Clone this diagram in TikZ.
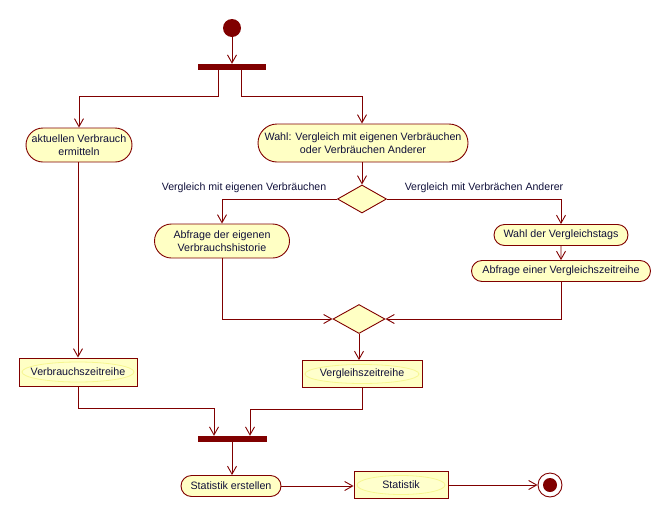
\documentclass[tikz,border=0pt]{standalone}
\usepackage{fontspec}
\setmainfont{Liberation Sans}
\usetikzlibrary{arrows.meta,shapes.misc,shapes.geometric,calc}
\definecolor{dr}{HTML}{800000}
\definecolor{yl}{HTML}{FFFFC4}
\definecolor{inl}{HTML}{F6F690}
\definecolor{inf}{HTML}{FFFFCC}
\definecolor{tx}{HTML}{10103A}
\tikzset{
  every node/.style={font=\fontsize{10.7}{13}\selectfont, text=tx, align=center, inner sep=0pt},
  act/.style={rounded rectangle, draw=dr, fill=yl, line width=0.9pt},
  obj/.style={rectangle, draw=dr, fill=yl, line width=0.9pt,
    path picture={\path let \p1=($(path picture bounding box.north east)-(path picture bounding box.south west)$) in
      [draw=inl, fill=inf, line width=0.8pt] (path picture bounding box.center) ellipse ({\x1/2-3pt} and {\y1/2-4pt});}},
  dec/.style={diamond, draw=dr, fill=yl, line width=0.9pt, aspect=1.75},
  bar/.style={rectangle, fill=dr, draw=none},
  flow/.style={draw=dr, line width=0.9pt, -{Straight Barb[length=8pt,width=9pt,line width=0.9pt]}},
  guard/.style={font=\fontsize{10.6}{12}\selectfont}
}
\begin{document}
\begin{tikzpicture}[x=1pt,y=-1pt]
\useasboundingbox (0,0) rectangle (670,520);
% nodes
\node[circle, fill=dr, minimum size=18pt] (start) at (232,28) {};
\node[bar, minimum width=68pt, minimum height=6pt] (fork) at (232,67) {};
\node[act, minimum width=106pt, minimum height=34pt] (a1) at (79,145) {aktuellen Verbrauch\\ermitteln};
\node[act, minimum width=210pt, minimum height=38pt] (a2) at (363,143) {Wahl: Vergleich mit eigenen Verbräuchen\\oder Verbräuchen Anderer};
\node[dec, minimum width=49pt, minimum height=28pt] (d1) at (362,199) {};
\node[act, minimum width=135pt, minimum height=34pt] (a3) at (222,241) {Abfrage der eigenen\\Verbrauchshistorie};
\node[act, minimum width=134pt, minimum height=21pt] (a4) at (561,235) {Wahl der Vergleichstags};
\node[act, minimum width=179pt, minimum height=21pt] (a5) at (561,271) {Abfrage einer Vergleichszeitreihe};
\node[dec, minimum width=52pt, minimum height=29pt] (d2) at (359,319) {};
\node[obj, minimum width=118pt, minimum height=28pt] (o1) at (78,372) {Verbrauchszeitreihe};
\node[obj, minimum width=120pt, minimum height=27pt] (o2) at (362,374) {Vergleihszeitreihe};
\node[bar, minimum width=69pt, minimum height=6pt] (join) at (232,439) {};
\node[act, minimum width=100pt, minimum height=21pt] (a6) at (231,486) {Statistik erstellen};
\node[obj, minimum width=94pt, minimum height=27pt] (o3) at (401,485) {Statistik};
\node[circle, draw=dr, fill=white, line width=0.9pt, minimum size=24pt] (end) at (550,485) {};
\node[circle, fill=dr, minimum size=14pt] (endin) at (end) {};
% guards
\node[guard] (g1) at (244,188) {Vergleich mit eigenen Verbräuchen};
\node[guard] (g2) at (484,188) {Vergleich mit Verbrächen Anderer};
% edges
\draw[flow] (start) -- (fork.north);
\draw[flow] ([xshift=-14pt]fork.south) -- ++(0,26) -| (a1.north);
\draw[flow] ([xshift=9pt]fork.south) -- ++(0,26) -| ([xshift=-1pt]a2.north);
\draw[flow] ([xshift=-1pt]a2.south) -- (d1.north);
\draw[flow] (d1.west) -| (a3.north);
\draw[flow] (d1.east) -| (a4.north);
\draw[flow] (a4) -- (a5);
\draw[flow] (a3.south) |- (d2.west);
\draw[flow] (a5.south) |- (d2.east);
\draw[flow] (d2.south) -- (d2.south |- o2.north);
\draw[flow] (a1.south -| o1.north) -- (o1.north);
\draw[flow] (o1.south) -- ++(0,22) -| ([xshift=-18pt]join.north);
\draw[flow] (o2.south) -- ++(0,21) -| ([xshift=18pt]join.north);
\draw[flow] (join.south) -- (join.south |- a6.north);
\draw[flow] (a6.east) -- (a6.east -| o3.west);
\draw[flow] (o3.east) -- (end.west);
\end{tikzpicture}
\end{document}
